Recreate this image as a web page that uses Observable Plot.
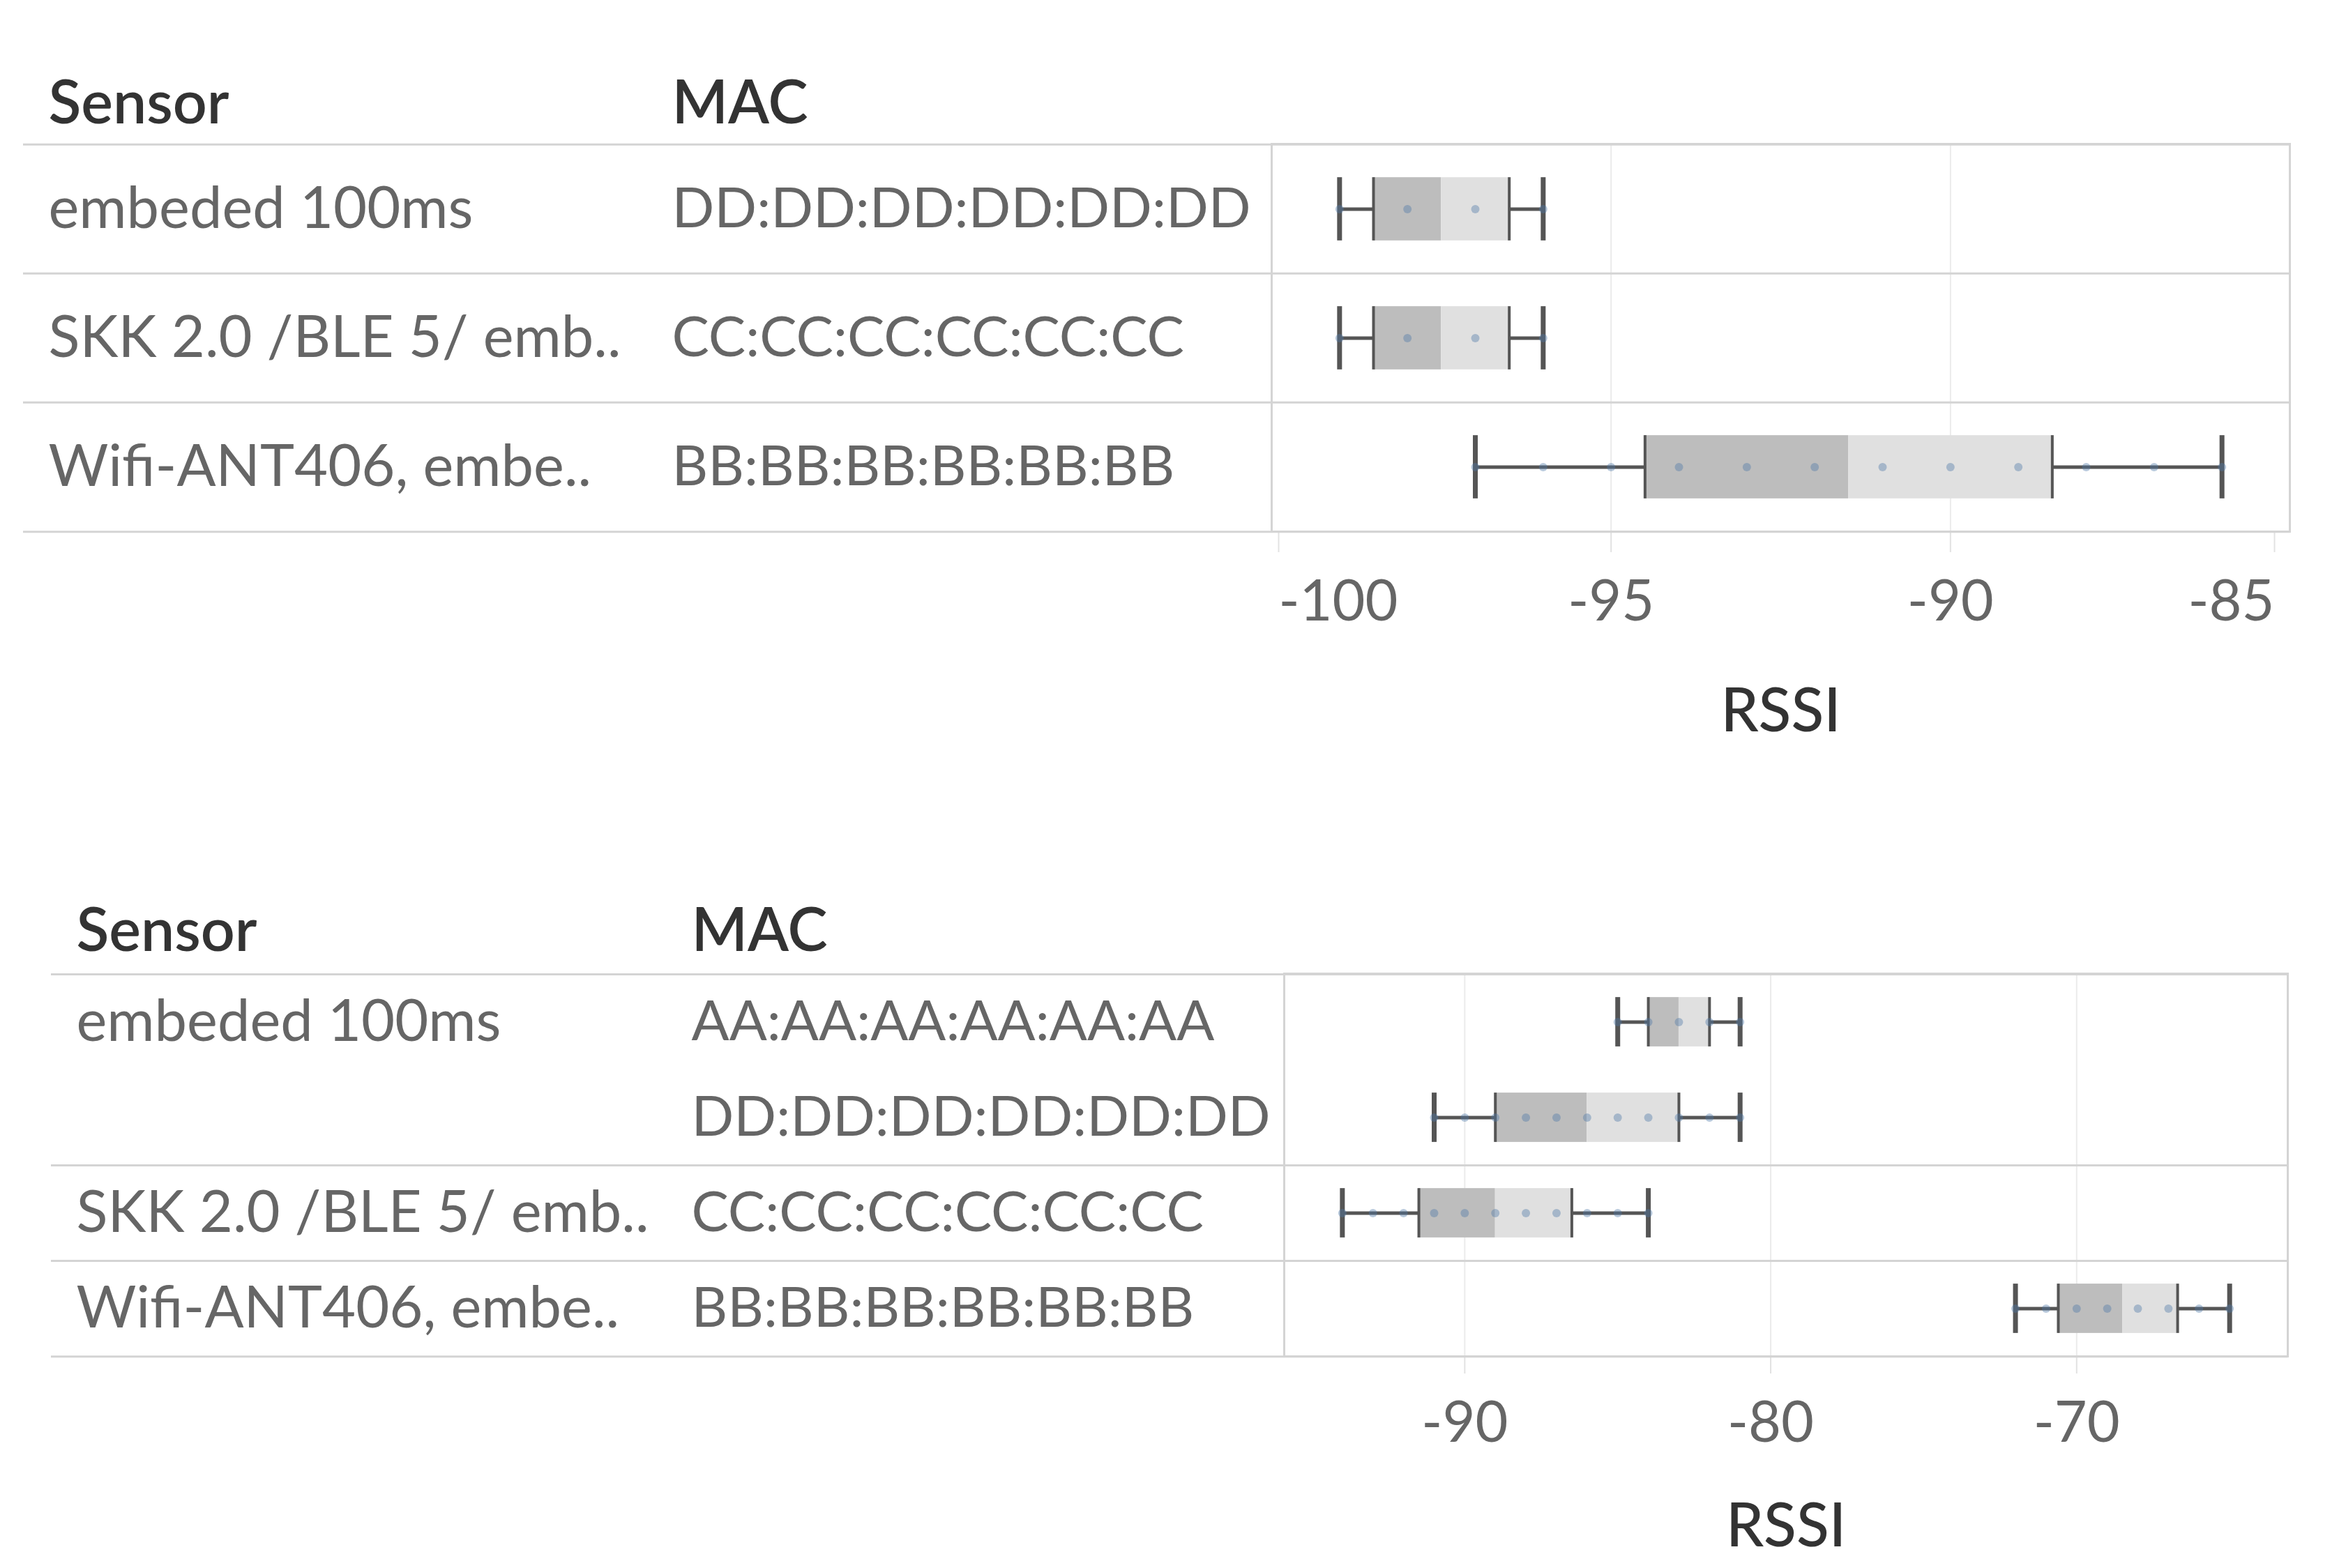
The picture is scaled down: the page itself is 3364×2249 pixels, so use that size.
<!DOCTYPE html>
<html>
<head>
<meta charset="utf-8">
<script src="https://cdn.jsdelivr.net/npm/d3@7"></script>
<script src="https://cdn.jsdelivr.net/npm/@observablehq/plot@0.6"></script>
<style>
  html, body { margin: 0; padding: 0; background: #fff; }
  #chart svg { display: block; }
</style>
</head>
<body>
<div id="chart"></div>
<script>
// ---------- top panel data ----------
const topSensors = ["embeded 100ms", "SKK 2.0 /BLE 5/ emb..", "Wifi-ANT406, embe.."];
const topMacs = ["DD:DD:DD:DD:DD:DD", "CC:CC:CC:CC:CC:CC", "BB:BB:BB:BB:BB:BB"];
const topLow = [-99, -99, -97];
const topQ1 = [-98.5, -98.5, -94.5];
const topMedian = [-97.5, -97.5, -91.5];
const topQ3 = [-96.5, -96.5, -88.5];
const topHigh = [-96, -96, -86];
const topPoints = [
  [-99, -98, -97, -96],
  [-99, -98, -97, -96],
  [-97, -96, -95, -94, -93, -92, -91, -90, -89, -88, -87, -86]
];
const topTicks = [-100, -95, -90, -85];
const topDomain = [-100, -85];

// ---------- bottom panel data ----------
const botSensors = ["embeded 100ms", "embeded 100ms", "SKK 2.0 /BLE 5/ emb..", "Wifi-ANT406, embe.."];
const botMacs = ["AA:AA:AA:AA:AA:AA", "DD:DD:DD:DD:DD:DD", "CC:CC:CC:CC:CC:CC", "BB:BB:BB:BB:BB:BB"];
const botLow = [-85, -91, -94, -72];
const botQ1 = [-84, -89, -91.5, -70.6];
const botMedian = [-83, -86, -89, -68.5];
const botQ3 = [-82, -83, -86.5, -66.7];
const botHigh = [-81, -81, -84, -65];
const botPoints = [
  [-85, -84, -83, -82, -81],
  [-91, -90, -89, -88, -87, -86, -85, -84, -83, -82, -81],
  [-94, -93, -92, -91, -90, -89, -88, -87, -86, -85, -84],
  [-72, -71, -70, -69, -68, -67, -66, -65]
];
const botTicks = [-90, -80, -70];
const botDomain = [-95.9, -63.1];

const axisTitle = "RSSI";
const headerSensor = "Sensor";
const headerMac = "MAC";

// ---------- styling ----------
const FONT = "Lato, 'Open Sans', sans-serif";
const LINE = "#d4d4d4";
const DARK = "#555555";

function buildRows(sensors, macs, low, q1, med, q3, high) {
  return macs.map((m, i) => ({
    sensor: sensors[i], mac: m, low: low[i], q1: q1[i], med: med[i], q3: q3[i], high: high[i],
    first: i === 0 || sensors[i] !== sensors[i - 1]
  }));
}
function buildPoints(macs, pts) {
  return macs.flatMap((m, i) => pts[i].map(v => ({mac: m, rssi: v})));
}

function panel(cfg) {
  const R = buildRows(cfg.sensors, cfg.macs, cfg.low, cfg.q1, cfg.med, cfg.q3, cfg.high);
  const P = buildPoints(cfg.macs, cfg.points);
  const bw = (cfg.height - cfg.marginTop - cfg.marginBottom) / R.length;
  const inset = (bw - cfg.boxH) / 2;
  const extend = -(cfg.marginLeft - cfg.tableLeft);
  const sensorLabel = new Map(R.map(d => [d.mac, d.first ? d.sensor : ""]));

  const tickAxes = cfg.tickGroups.map(g => Plot.axisX({
    ticks: g.ticks, tickSize: cfg.tickSize, tickPadding: cfg.tickPadding,
    stroke: "#e2e2e2", strokeWidth: 2, fill: "#666", fontSize: cfg.tickFontSize,
    textAnchor: g.anchor, dx: g.dx || 0, tickFormat: d => String(d), label: null
  }));

  return Plot.plot({
    width: 3364,
    height: cfg.height,
    marginTop: cfg.marginTop,
    marginBottom: cfg.marginBottom,
    marginLeft: cfg.marginLeft,
    marginRight: cfg.marginRight,
    style: {fontFamily: FONT, background: "white", color: "#666", overflow: "visible"},
    x: {domain: cfg.domain},
    y: {type: "band", domain: cfg.macs, padding: 0},
    marks: [
      Plot.gridX({ticks: cfg.gridTicks, stroke: "#ebebeb", strokeOpacity: 1, strokeWidth: 2}),
      ...tickAxes,
      Plot.text([axisTitle], {text: d => d, frameAnchor: "bottom", dy: cfg.labelOffset, lineAnchor: "bottom",
        fontSize: cfg.titleSize, fontWeight: 500, fill: "#333"}),
      Plot.ruleY(R, {y: "mac", x1: "low", x2: "q1", stroke: DARK, strokeWidth: 5}),
      Plot.ruleY(R, {y: "mac", x1: "q3", x2: "high", stroke: DARK, strokeWidth: 5}),
      Plot.barX(R, {y: "mac", x1: "q1", x2: "med", fill: "#bdbdbd", insetTop: inset, insetBottom: inset}),
      Plot.barX(R, {y: "mac", x1: "med", x2: "q3", fill: "#e0e0e0", insetTop: inset, insetBottom: inset}),
      Plot.tickX(R, {y: "mac", x: "q1", stroke: DARK, strokeWidth: 4, insetTop: inset, insetBottom: inset}),
      Plot.tickX(R, {y: "mac", x: "q3", stroke: DARK, strokeWidth: 4, insetTop: inset, insetBottom: inset}),
      Plot.tickX(R, {y: "mac", x: "low", stroke: DARK, strokeWidth: 7, insetTop: inset, insetBottom: inset}),
      Plot.tickX(R, {y: "mac", x: "high", stroke: DARK, strokeWidth: 7, insetTop: inset, insetBottom: inset}),
      Plot.dot(P, {x: "rssi", y: "mac", r: 6, fill: "#4e79a7", fillOpacity: 0.4, stroke: null}),
      Plot.frame({stroke: LINE, strokeWidth: 3}),
      Plot.ruleY(R.filter(d => d.first), {y: "mac", dy: -bw / 2, insetLeft: extend, stroke: LINE, strokeWidth: 3}),
      Plot.ruleY(R.slice(-1), {y: "mac", dy: bw / 2, insetLeft: extend, stroke: LINE, strokeWidth: 3}),
      Plot.axisY({tickSize: 0, tickPadding: 0, textAnchor: "start", dx: cfg.sensorX - cfg.marginLeft,
        tickFormat: m => sensorLabel.get(m), fill: "#666", fontSize: cfg.sensorSize, label: null}),
      Plot.axisY({tickSize: 0, tickPadding: 0, textAnchor: "start", dx: cfg.macX - cfg.marginLeft,
        tickFormat: m => m, fill: "#666", fontSize: cfg.macSize, label: null}),
      Plot.text([headerSensor], {text: d => d, frameAnchor: "top-left", dx: cfg.sensorX - cfg.marginLeft,
        dy: -cfg.headerGap, textAnchor: "start", lineAnchor: "bottom", fontSize: cfg.headerSize,
        fontWeight: 600, fill: "#333"}),
      Plot.text([headerMac], {text: d => d, frameAnchor: "top-left", dx: cfg.macX - cfg.marginLeft,
        dy: -cfg.headerGap, textAnchor: "start", lineAnchor: "bottom", fontSize: cfg.headerSize,
        fontWeight: 600, fill: "#333"})
    ]
  });
}

const chart = document.getElementById("chart");

chart.append(panel({
  sensors: topSensors, macs: topMacs, low: topLow, q1: topQ1, med: topMedian, q3: topQ3, high: topHigh,
  points: topPoints, domain: topDomain, gridTicks: topTicks,
  tickGroups: [
    {ticks: [topTicks[0]], anchor: "start", dx: 10},
    {ticks: topTicks.slice(1, -1), anchor: "middle"},
    {ticks: [topTicks[topTicks.length - 1]], anchor: "end", dx: -22}
  ],
  height: 1100, marginTop: 206, marginBottom: 338, marginLeft: 1823, marginRight: 81,
  tableLeft: 33, sensorX: 69, macX: 963, boxH: 91,
  sensorSize: 83, macSize: 80, tickFontSize: 81, headerSize: 86, titleSize: 86, headerGap: 30,
  tickSize: 30, tickPadding: 40, labelOffset: 286
}));

chart.append(panel({
  sensors: botSensors, macs: botMacs, low: botLow, q1: botQ1, med: botMedian, q3: botQ3, high: botHigh,
  points: botPoints, domain: botDomain, gridTicks: botTicks,
  tickGroups: [
    {ticks: botTicks, anchor: "middle"}
  ],
  height: 1149, marginTop: 296, marginBottom: 304, marginLeft: 1841, marginRight: 84,
  tableLeft: 73, sensorX: 109, macX: 991, boxH: 71,
  sensorSize: 83, macSize: 80, tickFontSize: 81, headerSize: 86, titleSize: 86, headerGap: 33,
  tickSize: 25, tickPadding: 40, labelOffset: 272
}));
</script>
</body>
</html>
